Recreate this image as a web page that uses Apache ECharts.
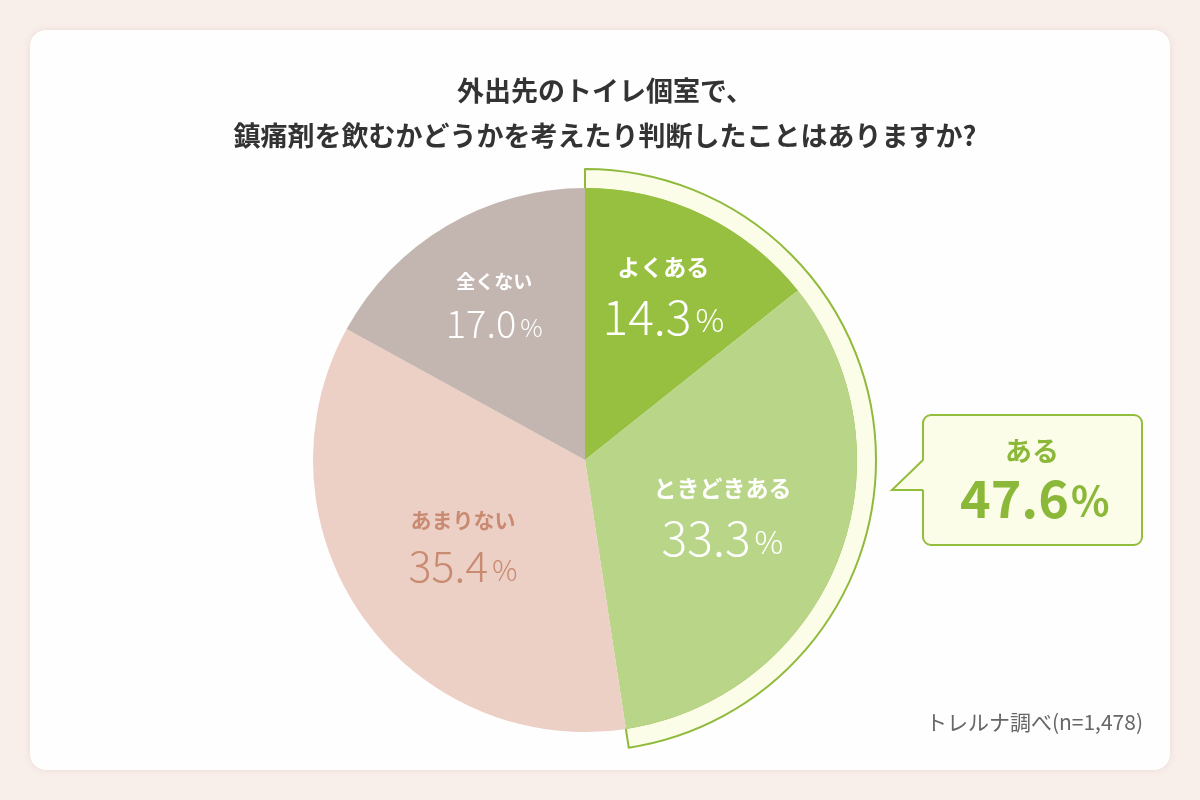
<!DOCTYPE html>
<html>
<head>
<meta charset="utf-8">
<script src="https://cdn.jsdelivr.net/npm/echarts@6/dist/echarts.min.js"></script>
<style>
html, body { margin: 0; padding: 0; background: #f8eeea; }
#chart { width: 1200px; height: 800px; }
</style>
</head>
<body>
<div id="chart"></div>
<script>
// 回答カテゴリと割合(%)
var answerNames = ['よくある', 'ときどきある', 'あまりない', '全くない'];
var answerValues = [14.3, 33.3, 35.4, 17.0];
var groupName = 'ある';
var groupCount = 2; // 先頭2項目を「ある」として合計
var sourceNote = 'トレルナ調べ(n=1,478)';
var titleLines = ['外出先のトイレ個室で、', '鎮痛剤を飲むかどうかを考えたり判断したことはありますか?'];

var sliceColors = ['#97c040', '#b9d588', '#eccfc5', '#c3b5b0'];
var labelColors = ['#ffffff', '#ffffff', '#c98a72', '#ffffff'];
var labelOffsets = [[18, -42], [8, 4], [-8, 4], [-20, -38]];
var nameSizes = [23, 23, 21, 19];
var numSizes = [48, 48, 43, 38];

var groupValue = 0;
for (var i = 0; i < groupCount; i++) {
    groupValue += answerValues[i];
}
groupValue = Math.round(groupValue * 10) / 10;

var pieData = [];
for (var i = 0; i < answerNames.length; i++) {
    pieData.push({
        name: answerNames[i],
        value: answerValues[i],
        itemStyle: { color: sliceColors[i] },
        label: {
            offset: labelOffsets[i],
            formatter: '{n|' + answerNames[i] + '}\n{v|' + answerValues[i].toFixed(1) + '}{p|%}',
            rich: {
                n: { color: labelColors[i], fontSize: nameSizes[i], fontWeight: 'bold', lineHeight: nameSizes[i] + 24, fontFamily: 'Noto Sans CJK JP', align: 'center' },
                v: { color: labelColors[i], fontSize: numSizes[i], fontWeight: 300, fontFamily: 'Noto Sans CJK JP', lineHeight: numSizes[i] + 4 },
                p: { color: labelColors[i], fontSize: Math.round(numSizes[i] * 0.66), fontWeight: 300, fontFamily: 'Noto Sans CJK JP', padding: [8, 0, 0, 4] }
            }
        }
    });
}

var boxFill = '#fbfde9';
var boxLine = '#92bd3d';
var accent = '#8cb83a';

var myChart = echarts.init(document.getElementById('chart'));
var option = {
    backgroundColor: '#f8eeea',
    animation: false,
    title: {
        text: titleLines.join('\n'),
        left: 600,
        top: 63,
        textAlign: 'center',
        textStyle: {
            fontFamily: 'Noto Sans CJK JP',
            fontSize: 27,
            fontWeight: 'bold',
            color: '#333333',
            lineHeight: 45
        }
    },
    graphic: [
        {
            type: 'rect',
            z: -10,
            shape: { x: 30, y: 30, width: 1140, height: 740, r: 16 },
            style: { fill: '#fffefe', shadowBlur: 6, shadowColor: 'rgba(200,170,160,0.25)' }
        },
        {
            type: 'rect',
            z: 5,
            shape: { x: 923, y: 415, width: 219, height: 130, r: 8 },
            style: { fill: boxFill, stroke: boxLine, lineWidth: 2 }
        },
        {
            type: 'polygon',
            z: 6,
            shape: { points: [[925, 459], [892, 490], [925, 490]] },
            style: { fill: boxFill }
        },
        {
            type: 'polyline',
            z: 7,
            shape: { points: [[923, 460], [892, 490], [923, 490]] },
            style: { fill: null, stroke: boxLine, lineWidth: 2 }
        },
        {
            type: 'text',
            z: 8,
            left: 1005,
            top: 437,
            style: {
                text: groupName,
                font: 'bold 27px "Noto Sans CJK JP"',
                fill: accent
            }
        },
        {
            type: 'text',
            z: 8,
            left: 960,
            top: 472,
            style: {
                text: '{v|' + groupValue.toFixed(1) + '}{p|%}',
                rich: {
                    v: { fontFamily: 'Noto Sans CJK JP', fontSize: 52, fontWeight: 'bold', fill: accent },
                    p: { fontFamily: 'Noto Sans CJK JP', fontSize: 40, fontWeight: 'bold', fill: accent, padding: [6, 0, 0, 2] }
                }
            }
        },
        {
            type: 'text',
            z: 8,
            right: 57,
            top: 712,
            style: {
                text: sourceNote,
                font: '21px "Noto Sans CJK JP"',
                fill: '#666666'
            }
        }
    ],
    series: [
        {
            name: 'group',
            type: 'pie',
            center: [585, 460],
            radius: [271, 291],
            startAngle: 90,
            silent: true,
            z: 1,
            label: { show: false },
            labelLine: { show: false },
            data: [
                { name: groupName, value: groupValue, itemStyle: { color: boxFill, borderColor: '#8fba3c', borderWidth: 2 } },
                { name: '', value: Math.round((100 - groupValue) * 10) / 10, itemStyle: { color: 'rgba(0,0,0,0)' } }
            ]
        },
        {
            name: 'answer',
            type: 'pie',
            center: [585, 460],
            radius: [0, 272],
            startAngle: 90,
            silent: true,
            z: 2,
            label: { show: true, position: 'inside' },
            labelLine: { show: false },
            data: pieData
        }
    ]
};
myChart.setOption(option);
</script>
</body>
</html>
